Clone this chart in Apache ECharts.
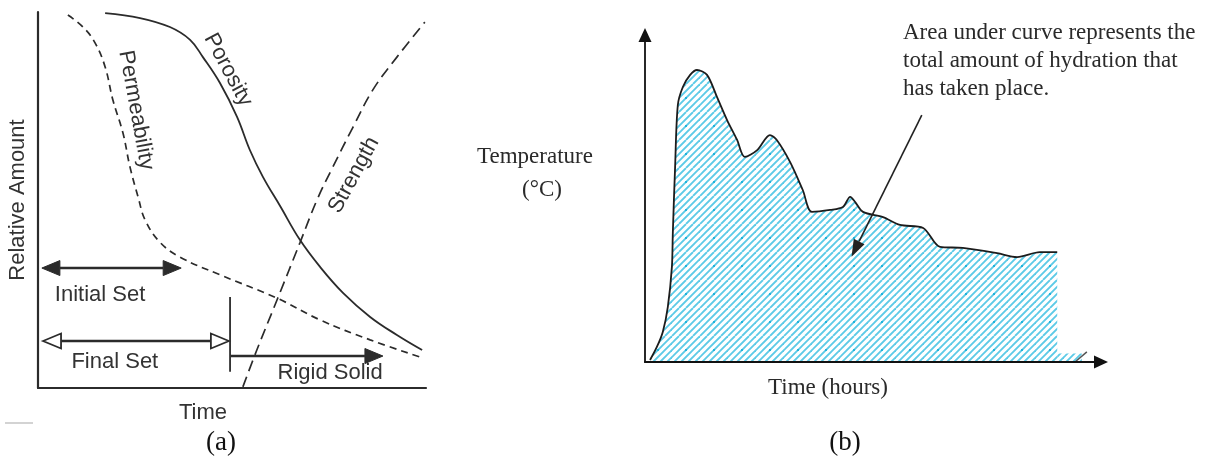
<!DOCTYPE html>
<html>
<head>
<meta charset="utf-8">
<title>Setting and heat of hydration</title>
<script src="https://cdn.jsdelivr.net/npm/echarts@6/dist/echarts.min.js"></script>
<style>
  html, body { margin: 0; padding: 0; background: #fff; }
  #chart { width: 1214px; height: 461px; }
</style>
</head>
<body>
<div id="chart"></div>
<script>
// (a) relative amount vs time, both axes 0..100
const permTime   = [7.7, 11.6, 14.7, 17.3, 19.3, 21.9, 23.7, 25.8, 27.6, 31.4, 36.6, 46.9, 61.6, 72.7, 85.6, 99.2];
const permAmount = [99.2, 96.0, 91.8, 85.4, 76.6, 67.8, 58.8, 50.8, 44.7, 38.8, 34.8, 30.1, 23.9, 18.1, 12.8, 8.0];

const poroTime   = [17.3, 26.3, 34.0, 39.2, 42.5, 46.9, 51.3, 54.6, 58.0, 62.4, 67.5, 72.7, 78.6, 85.6, 92.5, 99.0];
const poroAmount = [99.7, 98.4, 96.0, 92.6, 88.0, 81.1, 72.1, 63.3, 56.1, 48.4, 39.4, 32.2, 25.3, 18.9, 14.1, 10.1];

const strTime   = [52.8, 56.4, 61.6, 67.5, 71.9, 76.0, 81.2, 86.3, 92.5, 99.7];
const strAmount = [0.3, 10.1, 23.4, 38.6, 50.0, 58.8, 69.4, 79.3, 88.0, 97.3];

// set times: [from, to, level]
const initialSet = [1.0, 36.9, 31.9];
const finalSet   = [1.3, 49.2, 12.5];
const rigidSolid = [49.7, 88.9, 8.5];
const finalSetMark = [49.5, 4.3, 24.2]; // [time, low, high]

// (b) temperature vs time (hours), both axes 0..100
const hydTime = [1.1, 2.6, 3.9, 5.0, 5.9, 6.1, 6.6, 7.2, 8.3, 9.9, 11.4, 13.6, 15.8, 18.0, 20.2, 21.9, 24.6, 27.4, 28.9,
  31.8, 34.6, 36.6, 40.6, 43.4, 45.0, 46.1, 47.8, 52.2, 55.9, 61.0, 64.7, 69.7, 77.2, 81.6, 86.6, 90.4];
const hydTemp = [0.6, 4.6, 9.2, 16.8, 29.1, 39.4, 59.6, 78.6, 84.1, 87.8, 89.3, 87.8, 81.0, 74.0, 67.9, 62.7, 64.8, 69.4, 67.9,
  61.2, 52.6, 45.9, 46.5, 47.4, 50.5, 48.9, 45.9, 44.3, 41.9, 41.0, 35.2, 34.9, 33.3, 32.1, 33.6, 33.6];

function zip(xs, ys) {
  return xs.map(function (x, i) { return [x, ys[i]]; });
}

// diagonal cyan hatching for the area under the curve
function makeHatch() {
  const c = document.createElement('canvas');
  c.width = 28; c.height = 28;
  const ctx = c.getContext('2d');
  ctx.fillStyle = '#ffffff';
  ctx.fillRect(0, 0, 28, 28);
  ctx.strokeStyle = '#5ccae7';
  ctx.lineWidth = 1.9;
  for (let k = -1; k <= 9; k++) {
    const x0 = k * 7 - 28;
    ctx.beginPath();
    ctx.moveTo(x0, 28);
    ctx.lineTo(x0 + 28, 0);
    ctx.stroke();
  }
  ctx.fillStyle = '#1fb3dc';
  ctx.fillRect(13, 13, 2, 2);
  return c;
}
const hatch = { image: makeHatch(), repeat: 'repeat' };

const ink = '#2b2b2b';
const sans = '"Liberation Sans", Arial, sans-serif';
const serif = '"Liberation Serif", "Times New Roman", serif';

// horizontal arrow for the set-time spans
function spanArrow(span, left, right, open) {
  return {
    type: 'custom', xAxisIndex: 0, yAxisIndex: 0, clip: false, silent: true, z: 5,
    data: [span],
    renderItem: function (params, api) {
      const p1 = api.coord([api.value(0), api.value(2)]);
      const p2 = api.coord([api.value(1), api.value(2)]);
      const y = p1[1], len = 18, half = 7.5;
      function head(tipX, dir) {
        return {
          type: 'polygon',
          shape: { points: [[tipX, y], [tipX - dir * len, y - half], [tipX - dir * len, y + half]] },
          style: { fill: open ? '#fff' : ink, stroke: ink, lineWidth: open ? 1.8 : 1 }
        };
      }
      const children = [{
        type: 'line',
        shape: { x1: left ? p1[0] + len : p1[0], y1: y, x2: right ? p2[0] - len : p2[0], y2: y },
        style: { stroke: ink, lineWidth: 2.4 }
      }];
      if (left) children.push(head(p1[0], -1));
      if (right) children.push(head(p2[0], 1));
      return { type: 'group', children: children };
    }
  };
}

const curveLabels = [
  { text: 'Permeability', at: [25.3, 73.9], rotate: -1.39 },
  { text: 'Porosity', at: [49.0, 84.6], rotate: -1.08 },
  { text: 'Strength', at: [81.4, 56.6], rotate: 1.07 },
  { text: 'Initial Set', at: [16.0, 24.7], rotate: 0 },
  { text: 'Final Set', at: [19.8, 6.9], rotate: 0 },
  { text: 'Rigid Solid', at: [75.3, 4.0], rotate: 0 }
];

const chart = echarts.init(document.getElementById('chart'));

const plainAxis = {
  type: 'value', min: 0, max: 100,
  axisTick: { show: false },
  axisLabel: { show: false },
  splitLine: { show: false }
};

const option = {
  animation: false,
  backgroundColor: '#fff',
  grid: [
    { left: 38, top: 12, width: 388, height: 376 },
    { left: 645, top: 35, width: 456, height: 327 }
  ],
  xAxis: [
    Object.assign({}, plainAxis, {
      gridIndex: 0, z: 10,
      axisLine: { onZero: false, lineStyle: { color: ink, width: 2.2 } }
    }),
    Object.assign({}, plainAxis, {
      gridIndex: 1, z: 10,
      axisLine: { onZero: false, symbol: ['none', 'triangle'], symbolSize: [13, 14], lineStyle: { color: '#111', width: 2.2 } }
    })
  ],
  yAxis: [
    Object.assign({}, plainAxis, {
      gridIndex: 0, z: 10,
      name: 'Relative Amount', nameLocation: 'middle', nameGap: 9,
      nameTextStyle: { fontFamily: sans, fontSize: 22, color: '#333' },
      axisLine: { onZero: false, lineStyle: { color: ink, width: 2.2 } }
    }),
    Object.assign({}, plainAxis, {
      gridIndex: 1, z: 10,
      axisLine: { onZero: false, symbol: ['none', 'triangle'], symbolSize: [13, 14], lineStyle: { color: '#111', width: 1.8 } }
    })
  ],
  graphic: [
    { type: 'text', x: 203, y: 413, style: { text: 'Time', font: '22px ' + sans, fill: '#333', align: 'center', verticalAlign: 'middle' } },
    { type: 'text', x: 221, y: 443, style: { text: '(a)', font: '27px ' + serif, fill: '#111', align: 'center', verticalAlign: 'middle' } },
    { type: 'line', shape: { x1: 5, y1: 423, x2: 33, y2: 423 }, style: { stroke: '#c4c4c4', lineWidth: 1.5 } },
    { type: 'text', x: 535, y: 157, style: { text: 'Temperature', font: '23px ' + serif, fill: '#2a2a2a', align: 'center', verticalAlign: 'middle' } },
    { type: 'text', x: 542, y: 190, style: { text: '(°C)', font: '23px ' + serif, fill: '#2a2a2a', align: 'center', verticalAlign: 'middle' } },
    { type: 'text', x: 828, y: 388, style: { text: 'Time (hours)', font: '23px ' + serif, fill: '#2a2a2a', align: 'center', verticalAlign: 'middle' } },
    { type: 'text', x: 845, y: 443, style: { text: '(b)', font: '27px ' + serif, fill: '#111', align: 'center', verticalAlign: 'middle' } },
    {
      type: 'text', x: 903, y: 19,
      style: {
        text: 'Area under curve represents the\ntotal amount of hydration that\nhas taken place.',
        font: '23px ' + serif, lineHeight: 28, fill: '#2a2a2a', align: 'left', verticalAlign: 'top'
      }
    }
  ],
  series: [
    {
      name: 'Permeability', type: 'line', xAxisIndex: 0, yAxisIndex: 0,
      data: zip(permTime, permAmount), smooth: 0.4, showSymbol: false, silent: true,
      lineStyle: { color: ink, width: 1.7, type: [7, 5] }
    },
    {
      name: 'Porosity', type: 'line', xAxisIndex: 0, yAxisIndex: 0,
      data: zip(poroTime, poroAmount), smooth: 0.4, showSymbol: false, silent: true,
      lineStyle: { color: ink, width: 1.8 }
    },
    {
      name: 'Strength', type: 'line', xAxisIndex: 0, yAxisIndex: 0,
      data: zip(strTime, strAmount), smooth: 0.4, showSymbol: false, silent: true,
      lineStyle: { color: ink, width: 1.7, type: [11, 6] }
    },
    spanArrow(initialSet, true, true, false),
    spanArrow(finalSet, true, true, true),
    spanArrow(rigidSolid, false, true, false),
    {
      type: 'custom', xAxisIndex: 0, yAxisIndex: 0, clip: false, silent: true,
      data: [finalSetMark],
      renderItem: function (params, api) {
        const a = api.coord([api.value(0), api.value(1)]);
        const b = api.coord([api.value(0), api.value(2)]);
        return { type: 'line', shape: { x1: a[0], y1: a[1], x2: b[0], y2: b[1] }, style: { stroke: ink, lineWidth: 1.8 } };
      }
    },
    {
      type: 'custom', xAxisIndex: 0, yAxisIndex: 0, clip: false, silent: true,
      data: curveLabels.map(function (d) { return d.at; }),
      renderItem: function (params, api) {
        const d = curveLabels[params.dataIndex];
        const p = api.coord(d.at);
        return {
          type: 'text', x: p[0], y: p[1], rotation: d.rotate,
          style: { text: d.text, font: '22px ' + sans, fill: '#333', align: 'center', verticalAlign: 'middle' }
        };
      }
    },
    // (b)
    {
      name: 'Temperature', type: 'line', xAxisIndex: 1, yAxisIndex: 1,
      data: zip(hydTime, hydTemp), smooth: 0.3, showSymbol: false, silent: true,
      lineStyle: { color: '#1c1c1c', width: 1.8 },
      areaStyle: { color: hatch, opacity: 1 }
    },
    {
      type: 'line', xAxisIndex: 1, yAxisIndex: 1, silent: true, showSymbol: false,
      data: [[90.4, 2.6], [95.8, 2.6]],
      lineStyle: { width: 0 },
      areaStyle: { color: hatch, opacity: 1 }
    },
    {
      type: 'line', xAxisIndex: 1, yAxisIndex: 1, silent: true, showSymbol: false,
      data: [[94.3, 0], [96.9, 3.1]],
      lineStyle: { color: '#555', width: 1.5 }
    },
    {
      type: 'custom', xAxisIndex: 1, yAxisIndex: 1, clip: false, silent: true, z: 5,
      data: [[60.7, 75.5, 45.3, 32.2]],
      renderItem: function (params, api) {
        const t = api.coord([api.value(0), api.value(1)]);
        const h = api.coord([api.value(2), api.value(3)]);
        const dx = h[0] - t[0], dy = h[1] - t[1];
        const n = Math.sqrt(dx * dx + dy * dy);
        const ux = dx / n, uy = dy / n, len = 17, half = 6;
        const bx = h[0] - ux * len, by = h[1] - uy * len;
        return {
          type: 'group',
          children: [
            { type: 'line', shape: { x1: t[0], y1: t[1], x2: bx, y2: by }, style: { stroke: '#222', lineWidth: 1.6 } },
            {
              type: 'polygon',
              shape: { points: [[h[0], h[1]], [bx - uy * half, by + ux * half], [bx + uy * half, by - ux * half]] },
              style: { fill: '#222' }
            }
          ]
        };
      }
    }
  ]
};

chart.setOption(option);
</script>
</body>
</html>
